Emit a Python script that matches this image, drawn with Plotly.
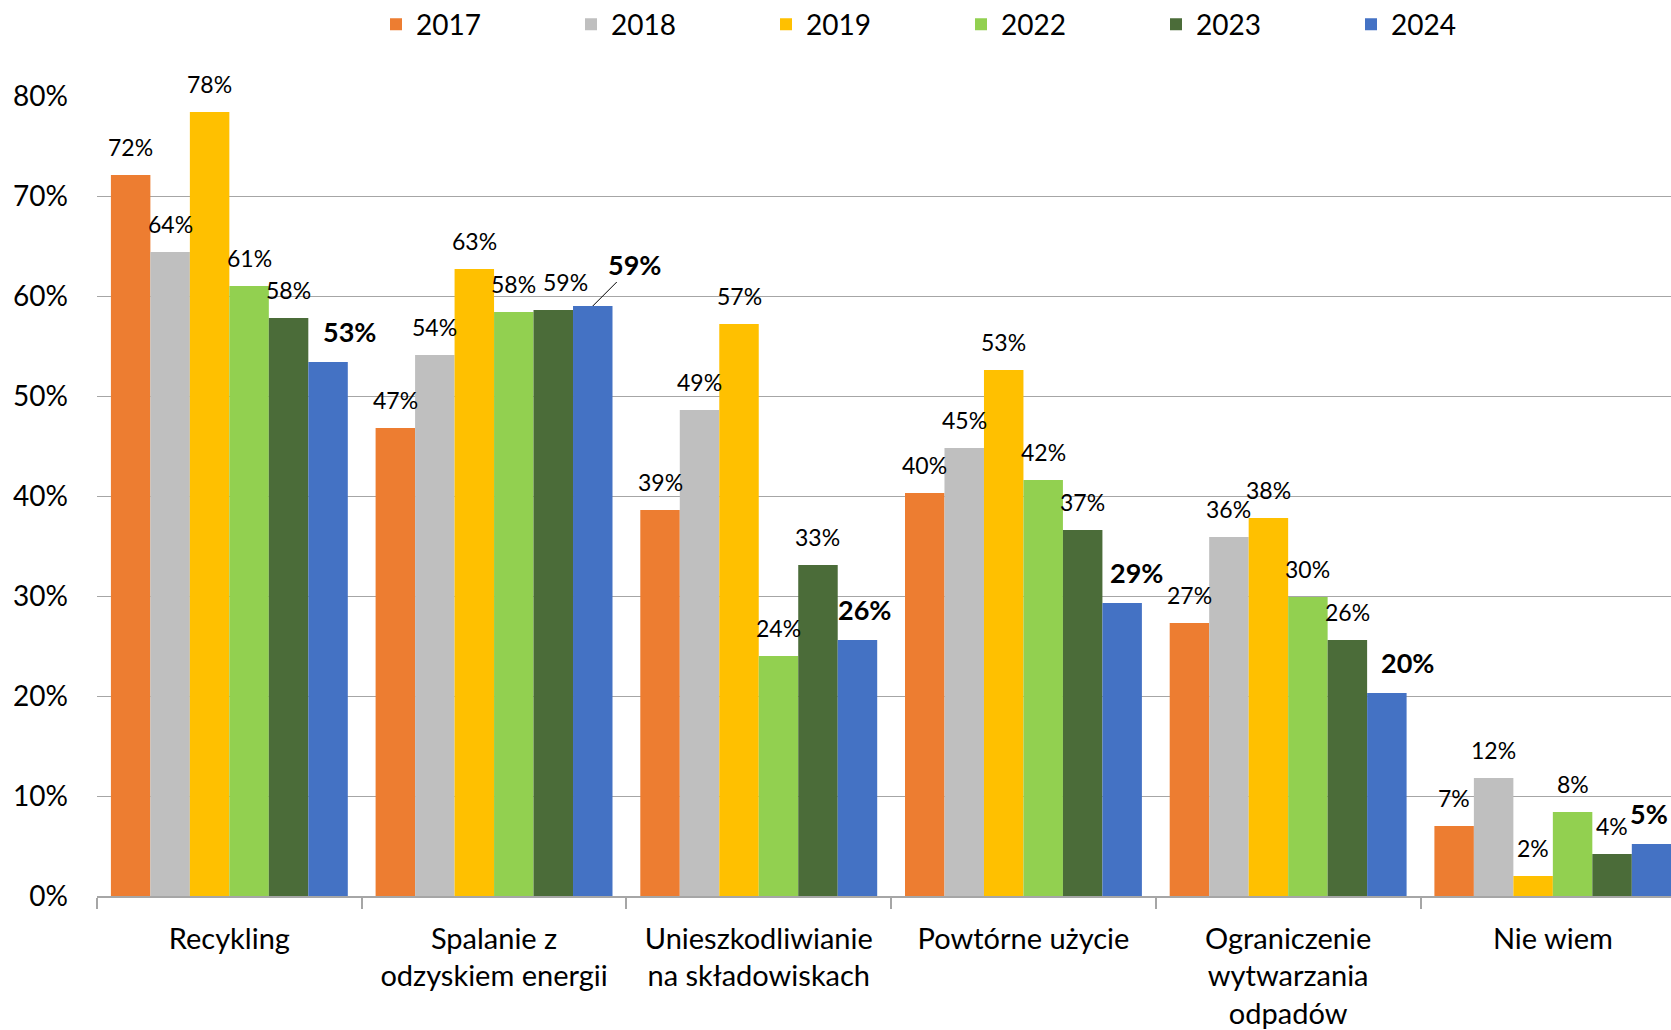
import plotly.graph_objects as go

categories = [
    "Recykling",
    "Spalanie z<br>odzyskiem energii",
    "Unieszkodliwianie<br>na składowiskach",
    "Powtórne użycie",
    "Ograniczenie<br>wytwarzania<br>odpadów",
    "Nie wiem",
]
years = ["2017", "2018", "2019", "2022", "2023", "2024"]

v2017 = [72.1, 46.8, 38.6, 40.3, 27.3, 7.0]
v2018 = [64.4, 54.1, 48.6, 44.8, 35.9, 11.8]
v2019 = [78.4, 62.7, 57.2, 52.6, 37.8, 2.0]
v2022 = [61.0, 58.4, 24.0, 41.6, 29.9, 8.4]
v2023 = [57.8, 58.6, 33.1, 36.6, 25.6, 4.2]
v2024 = [53.4, 59.0, 25.6, 29.3, 20.3, 5.2]

series = [v2017, v2018, v2019, v2022, v2023, v2024]
colors = ["#ED7D31", "#BFBFBF", "#FFC000", "#92D050", "#4B6C39", "#4472C4"]

FONT = "Lato, 'Open Sans', sans-serif"
BARGAP = 0.105

FIG_W, FIG_H = 1671, 1030
M_L, M_T, M_B = 97, 96, 134
CAT_PX = 264.7

# horizontal nudges (px) of the bold 2024 labels, per category
bold_dx = [21, 42, 7, 14, 21, -3]
# horizontal nudges (px) of some regular labels: (series index, category index)
label_dx = {(4, 1): 12}

fig = go.Figure()
for name, vals, col in zip(years, series, colors):
    fig.add_trace(go.Bar(
        name=name, x=categories, y=vals,
        marker=dict(color=col, line=dict(width=0)),
        hoverinfo="x+y+name",
    ))

n = len(years)
w = (1 - BARGAP) / n
annotations = []
for j, vals in enumerate(series):
    for i, v in enumerate(vals):
        xc = i - (1 - BARGAP) / 2 + w * (j + 0.5)
        txt = f"{round(v):.0f}%"
        if j == n - 1:
            if i == 1:
                annotations.append(dict(
                    x=xc, y=v, xref="x", yref="y", text=f"<b>{txt}</b>",
                    showarrow=True, arrowhead=0, arrowwidth=1, arrowcolor="#000",
                    ax=bold_dx[i], ay=-42, standoff=0,
                    font=dict(family=FONT, size=27, color="#000"),
                ))
            else:
                annotations.append(dict(
                    x=xc, y=v, xref="x", yref="y", text=f"<b>{txt}</b>",
                    showarrow=False, xshift=bold_dx[i], yshift=31,
                    yanchor="middle",
                    font=dict(family=FONT, size=27, color="#000"),
                ))
        else:
            annotations.append(dict(
                x=xc, y=v, xref="x", yref="y", text=txt,
                showarrow=False, yshift=28, xshift=label_dx.get((j, i), 0),
                yanchor="middle",
                font=dict(family=FONT, size=23, color="#000"),
            ))

plot_w = FIG_W - M_L
plot_h = FIG_H - M_T - M_B
fig.update_layout(
    width=FIG_W, height=FIG_H,
    margin=dict(l=M_L, r=0, t=M_T, b=M_B, pad=0, autoexpand=False),
    paper_bgcolor="white", plot_bgcolor="white",
    barmode="group", bargap=BARGAP, bargroupgap=0,
    font=dict(family=FONT, size=27, color="#000"),
    annotations=annotations,
    showlegend=True,
    legend=dict(
        orientation="h", xref="container", yref="paper",
        x=376 / FIG_W, xanchor="left",
        y=1 + (M_T - 24.5) / plot_h, yanchor="middle",
        font=dict(family=FONT, size=28, color="#000"),
        entrywidth=150, entrywidthmode="pixels",
        traceorder="normal", bgcolor="rgba(0,0,0,0)",
    ),
    xaxis=dict(
        type="category", range=[-0.5, -0.5 + plot_w / CAT_PX],
        showline=True, linecolor="#A6A6A6", linewidth=1.5,
        ticks="outside", ticklen=11, tickcolor="#A6A6A6", tickwidth=1.5,
        tickson="boundaries", showgrid=False,
        tickfont=dict(family=FONT, size=29, color="#000"),
        ticklabelstandoff=16,
    ),
    yaxis=dict(
        range=[0, 80], dtick=10, ticksuffix="%",
        showgrid=True, gridcolor="#A6A6A6", gridwidth=1.2,
        zeroline=False, showline=False, ticks="",
        tickfont=dict(family=FONT, size=28, color="#000"),
        ticklabelstandoff=28,
    ),
)

# remove the default page margin so the 1671x1030 figure fills the window exactly
fig.write_html(
    "out.html",
    config={"displayModeBar": False},
    post_script=(
        "document.documentElement.style.overflow='hidden';"
        "document.body.style.margin='0';"
        "document.body.style.overflow='hidden';"
    ),
)
